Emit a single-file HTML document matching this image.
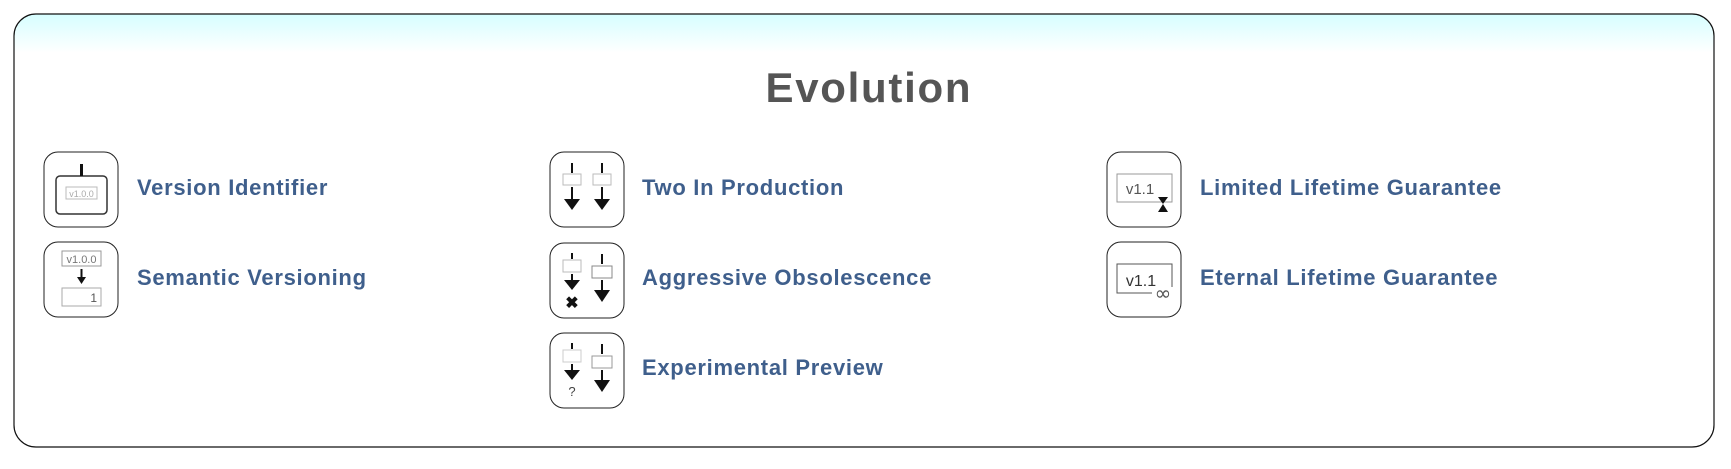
<!DOCTYPE html>
<html><head><meta charset="utf-8"><style>
html,body{margin:0;padding:0;background:#fff;width:1731px;height:469px;overflow:hidden}
svg{display:block}
.lbl{font-family:"Liberation Sans",sans-serif;font-weight:bold;font-size:22px;fill:#3f5f8c;letter-spacing:0.7px}
.v{font-family:"Liberation Sans",sans-serif;font-size:9px;fill:#aaa}
</style></head><body>
<svg width="1731" height="469" viewBox="0 0 1731 469" xmlns="http://www.w3.org/2000/svg">
<defs>
<linearGradient id="g" x1="0" y1="0" x2="0" y2="1">
<stop offset="0" stop-color="#d6feff"/><stop offset="0.09" stop-color="#ffffff"/><stop offset="1" stop-color="#ffffff"/>
</linearGradient>
</defs>
<rect x="14" y="14" width="1700" height="433" rx="22" fill="url(#g)" stroke="#111" stroke-width="1.2"/>
<text x="868" y="102" text-anchor="middle" font-family="Liberation Sans,sans-serif" font-weight="bold" font-size="42" fill="#555" textLength="205">Evolution</text>

<rect x="44" y="152" width="74" height="75" rx="14" fill="#fff" stroke="#222"/>
<rect x="56" y="176" width="51" height="38" rx="4" fill="none" stroke="#333" stroke-width="1.5"/>
<rect x="80" y="164" width="3" height="12" fill="#111"/>
<rect x="66" y="187" width="31" height="12" fill="none" stroke="#bbb"/>
<text x="81.5" y="197" text-anchor="middle" class="v">v1.0.0</text>
<text x="137" y="195" class="lbl">Version Identifier</text>

<rect x="44" y="242" width="74" height="75" rx="14" fill="#fff" stroke="#222"/>
<rect x="62" y="251" width="39" height="15" fill="none" stroke="#999"/>
<text x="81.5" y="263" text-anchor="middle" class="v" style="font-size:11px;fill:#777">v1.0.0</text>
<rect x="80.5" y="269" width="2" height="9" fill="#111"/><polygon points="77,277 86,277 81.5,284" fill="#111"/>
<rect x="62" y="288" width="39" height="18" fill="none" stroke="#aaa"/>
<text x="97" y="302" text-anchor="end" class="v" style="font-size:12px;fill:#555">1</text>
<text x="137" y="285" class="lbl">Semantic Versioning</text>

<rect x="550" y="152" width="74" height="75" rx="14" fill="#fff" stroke="#222"/>
<rect x="571" y="163" width="2" height="10" fill="#111"/><rect x="563" y="174" width="18" height="11" fill="none" stroke="#bbb"/>
<rect x="571" y="187" width="2" height="12" fill="#111"/><polygon points="564,199 580,199 572,210" fill="#111"/>
<rect x="601" y="163" width="2" height="10" fill="#111"/><rect x="593" y="174" width="18" height="11" fill="none" stroke="#bbb"/>
<rect x="601" y="187" width="2" height="12" fill="#111"/><polygon points="594,199 610,199 602,210" fill="#111"/>
<text x="642" y="195" class="lbl">Two In Production</text>

<rect x="550" y="243" width="74" height="75" rx="14" fill="#fff" stroke="#222"/>
<rect x="571" y="253" width="2" height="6" fill="#111"/><rect x="563" y="260" width="18" height="12" fill="none" stroke="#bbb"/>
<rect x="571" y="274" width="2" height="7" fill="#111"/><polygon points="564,280 580,280 572,290" fill="#111"/>
<text x="572" y="308" text-anchor="middle" font-family="Liberation Sans,sans-serif" font-weight="bold" font-size="16" fill="#111">✖</text>
<rect x="601" y="254" width="2" height="10" fill="#111"/><rect x="592" y="266" width="20" height="12" fill="none" stroke="#888"/>
<rect x="601" y="280" width="2" height="11" fill="#111"/><polygon points="594,290 610,290 602,302" fill="#111"/>
<text x="642" y="285" class="lbl">Aggressive Obsolescence</text>

<rect x="550" y="333" width="74" height="75" rx="14" fill="#fff" stroke="#222"/>
<rect x="571" y="343" width="2" height="6" fill="#111"/><rect x="563" y="350" width="18" height="12" fill="none" stroke="#ccc"/>
<rect x="571" y="364" width="2" height="7" fill="#111"/><polygon points="564,370 580,370 572,380" fill="#111"/>
<text x="572" y="396" text-anchor="middle" font-family="Liberation Sans,sans-serif" font-size="13" fill="#444">?</text>
<rect x="601" y="344" width="2" height="10" fill="#111"/><rect x="592" y="356" width="20" height="12" fill="none" stroke="#999"/>
<rect x="601" y="370" width="2" height="11" fill="#111"/><polygon points="594,380 610,380 602,392" fill="#111"/>
<text x="642" y="375" class="lbl">Experimental Preview</text>

<rect x="1107" y="152" width="74" height="75" rx="14" fill="#fff" stroke="#222"/>
<rect x="1117" y="174" width="55" height="28" fill="none" stroke="#999"/>
<text x="1140" y="194" text-anchor="middle" font-family="Liberation Sans,sans-serif" font-size="15" fill="#555">v1.1</text>
<polygon points="1158,197 1168,197 1163,204" fill="#111"/><polygon points="1163,204 1158,212 1168,212" fill="#111"/>
<text x="1200" y="195" class="lbl">Limited Lifetime Guarantee</text>

<rect x="1107" y="242" width="74" height="75" rx="14" fill="#fff" stroke="#222"/>
<path d="M1152 293 H1117 V264 H1172 V287" fill="none" stroke="#555"/>
<text x="1141" y="286" text-anchor="middle" font-family="Liberation Sans,sans-serif" font-size="16" fill="#333">v1.1</text>
<text x="1163" y="300" text-anchor="middle" font-family="DejaVu Sans,sans-serif" font-size="20" fill="#555">∞</text>
<text x="1200" y="285" class="lbl">Eternal Lifetime Guarantee</text>
</svg>
</body></html>
